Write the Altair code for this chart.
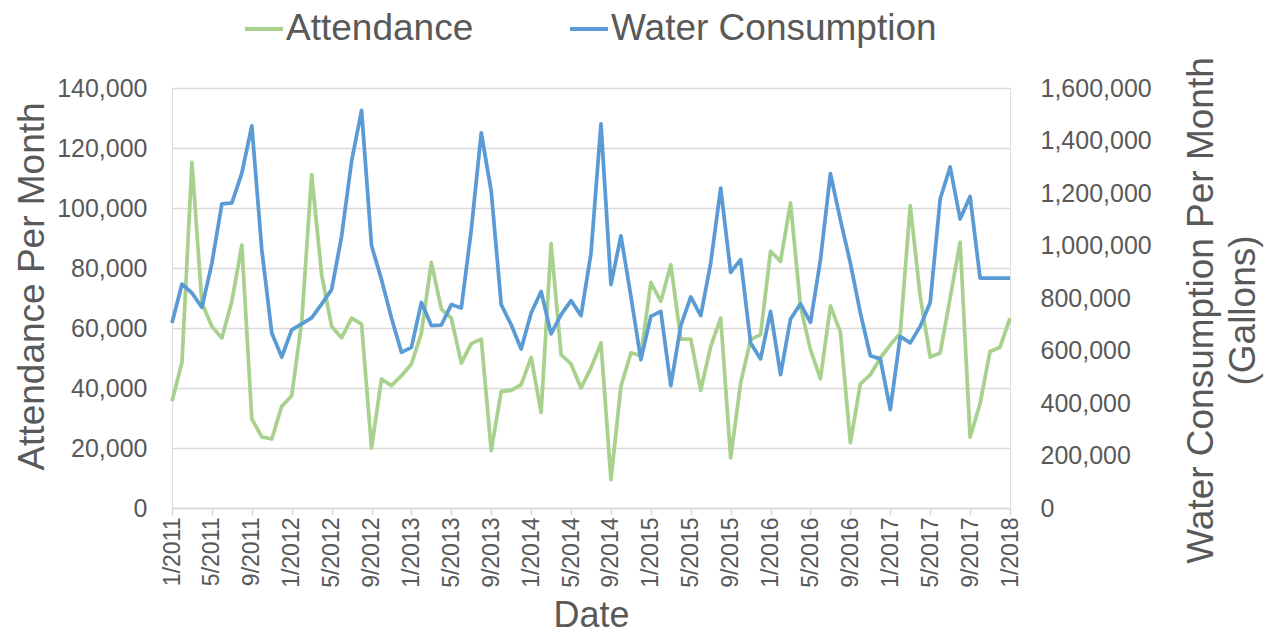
import altair as alt
import pandas as pd

# Monthly labels, 1/2011 .. 1/2018
months = [f"{m}/{y}" for y in range(2011, 2019) for m in range(1, 13)][:85]
tick_labels = months[::4]

attendance = [
    35600, 48600, 115200, 68300, 60500, 56700, 68900, 87600, 29700, 23700,
    23000, 33900, 37400, 62000, 111100, 77800, 60600, 56700, 63300, 61300,
    20000, 43000, 40800, 44100, 48000, 58300, 81900, 66300, 63300, 48300,
    54800, 56300, 19100, 38900, 39200, 41100, 50200, 31900, 88100, 51100,
    48000, 40000, 46700, 55000, 9400, 40600, 51700, 50800, 75200, 68900,
    81100, 56300, 56300, 39200, 53900, 63300, 16700, 41700, 56100, 57800,
    85600, 82200, 101700, 67200, 52800, 43100, 67400, 58600, 21700, 41400,
    44400, 50000, 54400, 58300, 100800, 70600, 50300, 51700, 70000, 88600,
    23600, 34800, 52200, 53600, 63300,
]

water = [
    705000, 853000, 819000, 764000, 933000, 1159000, 1162000, 1276000, 1456000, 984000,
    667000, 575000, 679000, 701000, 724000, 777000, 832000, 1035000, 1321000, 1515000,
    1000000, 870000, 724000, 593000, 612000, 783000, 695000, 697000, 775000, 762000,
    1060000, 1429000, 1206000, 775000, 698000, 606000, 743000, 825000, 663000, 737000,
    790000, 733000, 971000, 1463000, 851000, 1037000, 806000, 565000, 730000, 749000,
    466000, 695000, 804000, 733000, 933000, 1219000, 898000, 946000, 629000, 568000,
    749000, 508000, 720000, 778000, 707000, 946000, 1274000, 1098000, 933000, 743000,
    580000, 568000, 375000, 654000, 629000, 692000, 783000, 1177000, 1299000, 1101000,
    1187000, 876000, 876000, 876000, 876000,
]

series_names = ["Attendance", "Water Consumption"]
series_colors = ["#A9D18E", "#5B9BD5"]

df = pd.DataFrame({"month": months, "attendance": attendance, "water": water})

FONT = "Liberation Sans"
TXT = "#595959"
GRID = "#D9D9D9"

color = alt.Color(
    "series:N",
    scale=alt.Scale(domain=series_names, range=series_colors),
    legend=alt.Legend(
        title=None,
        orient="none",
        direction="horizontal",
        legendX=71,
        legendY=-80,
        symbolType="stroke",
        symbolSize=1444,
        symbolStrokeWidth=4,
        labelFontSize=37,
        labelFont=FONT,
        labelColor=TXT,
        labelLimit=600,
        labelOffset=1,
        columnPadding=88,
        padding=0,
    ),
)

x = alt.X(
    "month:O",
    sort=None,
    scale=alt.Scale(type="point", padding=0),
    axis=alt.Axis(
        values=tick_labels,
        labelAngle=270,
        labelAlign="right",
        labelBaseline="middle",
        labelFontSize=23,
        labelFont=FONT,
        labelColor=TXT,
        labelPadding=2,
        tickSize=7,
        tickColor=GRID,
        tickWidth=1.5,
        domainColor=GRID,
        domainWidth=1.5,
        grid=False,
        title="Date",
        titleFontSize=36,
        titleFont=FONT,
        titleColor=TXT,
        titleFontWeight="normal",
        titleBaseline="alphabetic",
        titleY=118,
        labelOverlap=False,
    ),
)

att = (
    alt.Chart(df)
    .transform_calculate(series="'Attendance'")
    .mark_line(strokeWidth=3.75, strokeJoin="round")
    .encode(
        x=x,
        y=alt.Y(
            "attendance:Q",
            scale=alt.Scale(domain=[0, 140000], nice=False),
            axis=alt.Axis(
                values=[0, 20000, 40000, 60000, 80000, 100000, 120000, 140000],
                format=",d",
                orient="left",
                labelFontSize=25,
                labelFont=FONT,
                labelColor=TXT,
                labelPadding=25,
                ticks=False,
                domain=False,
                grid=True,
                gridColor=GRID,
                gridWidth=1.5,
                title="Attendance Per Month",
                titleFontSize=37,
                titleFont=FONT,
                titleColor=TXT,
                titleFontWeight="normal",
                titleAngle=270,
                titleBaseline="alphabetic",
                titleAlign="center",
                titleX=-129,
                titleY=198,
                titleLimit=1000,
            ),
        ),
        color=color,
    )
)

wat = (
    alt.Chart(df)
    .transform_calculate(series="'Water Consumption'")
    .mark_line(strokeWidth=3.75, strokeJoin="round")
    .encode(
        x=x,
        y=alt.Y(
            "water:Q",
            scale=alt.Scale(domain=[0, 1600000], nice=False),
            axis=alt.Axis(
                values=[0, 200000, 400000, 600000, 800000, 1000000, 1200000, 1400000, 1600000],
                format=",d",
                orient="right",
                labelFontSize=25,
                labelFont=FONT,
                labelColor=TXT,
                labelPadding=30,
                ticks=False,
                domain=False,
                grid=False,
                title=["Water Consumption Per Month", "(Gallons)"],
                titleFontSize=37,
                titleFont=FONT,
                titleColor=TXT,
                titleFontWeight="normal",
                titleAngle=270,
                titleBaseline="alphabetic",
                titleAlign="center",
                titleLineHeight=42,
                titleX=202,
                titleY=222,
                titleLimit=1000,
            ),
        ),
        color=color,
    )
)

chart = (
    alt.layer(att, wat)
    .resolve_scale(y="independent")
    .properties(
        width=838,
        height=420,
        autosize=alt.AutoSizeParams(type="none"),
        padding={"left": 164, "top": 80, "right": 256, "bottom": 126},
    )
    .configure_view(stroke=None)
    .configure(background="white")
)

chart.save("out.html", embed_options={"renderer": "svg", "actions": False})
